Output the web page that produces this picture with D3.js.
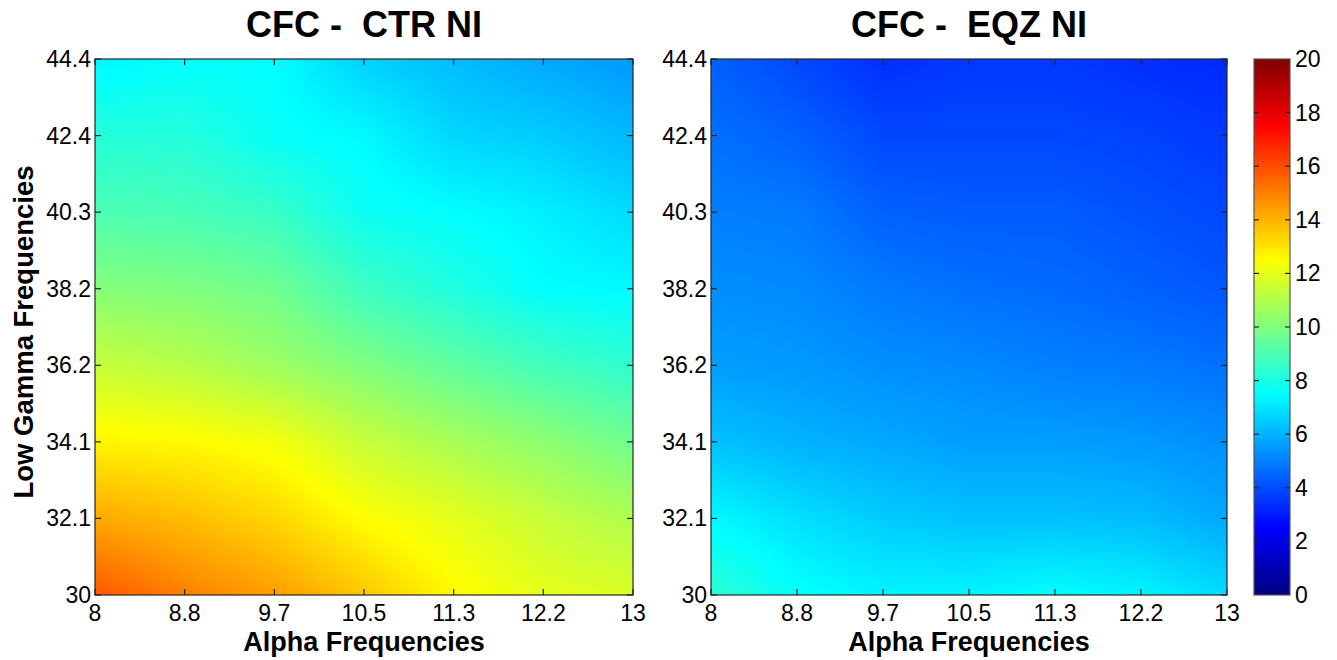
<!DOCTYPE html>
<html>
<head>
<meta charset="utf-8">
<script src="https://cdn.jsdelivr.net/npm/d3@7"></script>
<style>
  html, body { margin: 0; padding: 0; background: #fff; }
  svg { display: block; font-family: "Liberation Sans", Arial, sans-serif; }
</style>
</head>
<body>
<svg id="chart" width="1337" height="660"></svg>
<script>
// ---- data ----
const titles = ["CFC -  CTR NI", "CFC -  EQZ NI"];
const xLabel = "Alpha Frequencies";
const yLabel = "Low Gamma Frequencies";
const xGrid = [8, 8.8333, 9.6667, 10.5, 11.3333, 12.1667, 13];
const xTickLabels = ["8", "8.8", "9.7", "10.5", "11.3", "12.2", "13"];
const yGrid = [30, 32.0571, 34.1143, 36.1714, 38.2286, 40.2857, 42.3429, 44.4];
const yTickLabels = ["30", "32.1", "34.1", "36.2", "38.2", "40.3", "42.4", "44.4"];
const cbTicks = [0, 2, 4, 6, 8, 10, 12, 14, 16, 18, 20];
// values: rows follow yGrid (bottom to top), columns follow xGrid
const ctrValues = [
  [15.8, 15.0, 14.4, 13.6, 12.6, 12.0, 11.8],
  [14.2, 13.8, 13.3, 12.5, 12.0, 11.4, 10.9],
  [12.7, 12.6, 12.3, 11.4, 10.8, 10.3, 9.7],
  [11.4, 11.1, 10.6, 10.0, 9.4, 8.8, 8.4],
  [10.1, 10.0, 9.7, 8.7, 8.1, 7.5, 7.4],
  [9.0, 8.9, 8.6, 7.7, 7.5, 7.2, 6.8],
  [8.2, 8.2, 7.6, 7.4, 6.7, 6.5, 6.1],
  [7.3, 7.5, 7.5, 6.6, 6.2, 5.8, 5.5]
];
const eqzValues = [
  [8.4, 7.6, 7.3, 7.3, 7.5, 7.3, 6.8],
  [7.4, 6.9, 6.5, 6.3, 6.3, 6.2, 5.8],
  [6.3, 6.0, 5.8, 5.6, 5.6, 5.5, 5.3],
  [5.6, 5.5, 5.3, 5.2, 5.0, 4.9, 4.7],
  [5.3, 5.2, 4.9, 4.7, 4.6, 4.4, 4.2],
  [5.0, 4.9, 4.4, 4.3, 4.3, 4.1, 3.9],
  [4.7, 4.4, 3.9, 3.9, 3.9, 3.8, 3.6],
  [4.4, 3.9, 3.4, 3.6, 3.6, 3.4, 3.3]
];
const cRange = [0, 20];

// ---- layout ----
const svg = d3.select("#chart");
const plotTop = 59, plotBottom = 595;
const panels = [
  { x0: 95, x1: 633, values: ctrValues, title: titles[0], yLab: true },
  { x0: 711, x1: 1227, values: eqzValues, title: titles[1], yLab: false }
];
const cb = { x0: 1254, x1: 1290 };
const tickFont = 23;

const jet = d3.scaleLinear()
  .domain([0, 2.5, 7.5, 12.5, 17.5, 20])
  .range(["#000080", "#0000ff", "#00ffff", "#ffff00", "#ff0000", "#800000"])
  .clamp(true);

function bilinear(vals, x, y) {
  let i = Math.min(Math.max(d3.bisectRight(xGrid, x) - 1, 0), xGrid.length - 2);
  let j = Math.min(Math.max(d3.bisectRight(yGrid, y) - 1, 0), yGrid.length - 2);
  const tx = (x - xGrid[i]) / (xGrid[i + 1] - xGrid[i]);
  const ty = (y - yGrid[j]) / (yGrid[j + 1] - yGrid[j]);
  const a = vals[j][i], b = vals[j][i + 1], c = vals[j + 1][i], d = vals[j + 1][i + 1];
  return (a * (1 - tx) + b * tx) * (1 - ty) + (c * (1 - tx) + d * tx) * ty;
}

const tickLen = 6;
const tickColor = "#262626";

panels.forEach(p => {
  const x = d3.scaleLinear().domain([xGrid[0], xGrid[xGrid.length - 1]]).range([p.x0, p.x1]);
  const y = d3.scaleLinear().domain([yGrid[0], yGrid[yGrid.length - 1]]).range([plotBottom, plotTop]);
  const w = Math.round(p.x1 - p.x0), h = Math.round(plotBottom - plotTop);
  const canvas = document.createElement("canvas");
  canvas.width = w; canvas.height = h;
  const ctx = canvas.getContext("2d");
  const img = ctx.createImageData(w, h);
  for (let py = 0; py < h; py++) {
    const yv = y.invert(plotTop + py + 0.5);
    for (let px = 0; px < w; px++) {
      const xv = x.invert(p.x0 + px + 0.5);
      const v = bilinear(p.values, xv, yv);
      const col = d3.rgb(jet(v));
      const k = (py * w + px) * 4;
      img.data[k] = col.r; img.data[k + 1] = col.g; img.data[k + 2] = col.b; img.data[k + 3] = 255;
    }
  }
  ctx.putImageData(img, 0, 0);
  svg.append("image")
    .attr("x", p.x0).attr("y", plotTop).attr("width", w).attr("height", h)
    .attr("preserveAspectRatio", "none")
    .attr("href", canvas.toDataURL());

  const g = svg.append("g");
  g.append("rect").attr("x", p.x0).attr("y", plotTop).attr("width", p.x1 - p.x0).attr("height", plotBottom - plotTop)
    .attr("fill", "none").attr("stroke", tickColor).attr("stroke-width", 1.2);
  xGrid.forEach((v, i) => {
    const xx = x(v);
    g.append("line").attr("x1", xx).attr("x2", xx).attr("y1", plotBottom).attr("y2", plotBottom - tickLen)
      .attr("stroke", tickColor).attr("stroke-width", 1.2);
    g.append("line").attr("x1", xx).attr("x2", xx).attr("y1", plotTop).attr("y2", plotTop + tickLen)
      .attr("stroke", tickColor).attr("stroke-width", 1.2);
    g.append("text").attr("x", xx).attr("y", 621).attr("text-anchor", "middle")
      .attr("font-size", tickFont).attr("fill", "#000").text(xTickLabels[i]);
  });
  yGrid.forEach((v, i) => {
    const yy = y(v);
    g.append("line").attr("x1", p.x0).attr("x2", p.x0 + tickLen).attr("y1", yy).attr("y2", yy)
      .attr("stroke", tickColor).attr("stroke-width", 1.2);
    g.append("line").attr("x1", p.x1).attr("x2", p.x1 - tickLen).attr("y1", yy).attr("y2", yy)
      .attr("stroke", tickColor).attr("stroke-width", 1.2);
    g.append("text").attr("x", p.x0 - 4).attr("y", yy + 8).attr("text-anchor", "end")
      .attr("font-size", tickFont).attr("fill", "#000").text(yTickLabels[i]);
  });
  g.append("text").attr("x", (p.x0 + p.x1) / 2).attr("y", 37).attr("text-anchor", "middle")
    .attr("font-size", 36).attr("font-weight", "bold").style("white-space", "pre").text(p.title);
  g.append("text").attr("x", (p.x0 + p.x1) / 2).attr("y", 651).attr("text-anchor", "middle")
    .attr("font-size", 27).attr("font-weight", "bold").text(xLabel);
  if (p.yLab) {
    g.append("text").attr("transform", `translate(33,332) rotate(-90)`)
      .attr("text-anchor", "middle").attr("font-size", 27.5).attr("font-weight", "bold").text(yLabel);
  }
});

// ---- colorbar ----
const cy = d3.scaleLinear().domain(cRange).range([plotBottom, plotTop]);
const defs = svg.append("defs");
const grad = defs.append("linearGradient").attr("id", "jetgrad")
  .attr("x1", 0).attr("y1", 1).attr("x2", 0).attr("y2", 0);
jet.domain().forEach(v => {
  grad.append("stop").attr("offset", (v - cRange[0]) / (cRange[1] - cRange[0])).attr("stop-color", jet(v));
});
svg.append("rect").attr("x", cb.x0).attr("y", plotTop).attr("width", cb.x1 - cb.x0).attr("height", plotBottom - plotTop)
  .attr("fill", "url(#jetgrad)").attr("stroke", "#555").attr("stroke-width", 1.2);
cbTicks.forEach(v => {
  const yy = cy(v);
  if (v !== cRange[0] && v !== cRange[1]) {
    svg.append("line").attr("x1", cb.x0).attr("x2", cb.x0 + 5).attr("y1", yy).attr("y2", yy)
      .attr("stroke", tickColor).attr("stroke-width", 1.2);
    svg.append("line").attr("x1", cb.x1).attr("x2", cb.x1 - 5).attr("y1", yy).attr("y2", yy)
      .attr("stroke", tickColor).attr("stroke-width", 1.2);
  }
  svg.append("text").attr("x", cb.x1 + 5).attr("y", yy + 8).attr("text-anchor", "start")
    .attr("font-size", tickFont).attr("fill", "#000").text(v);
});
</script>
</body>
</html>
